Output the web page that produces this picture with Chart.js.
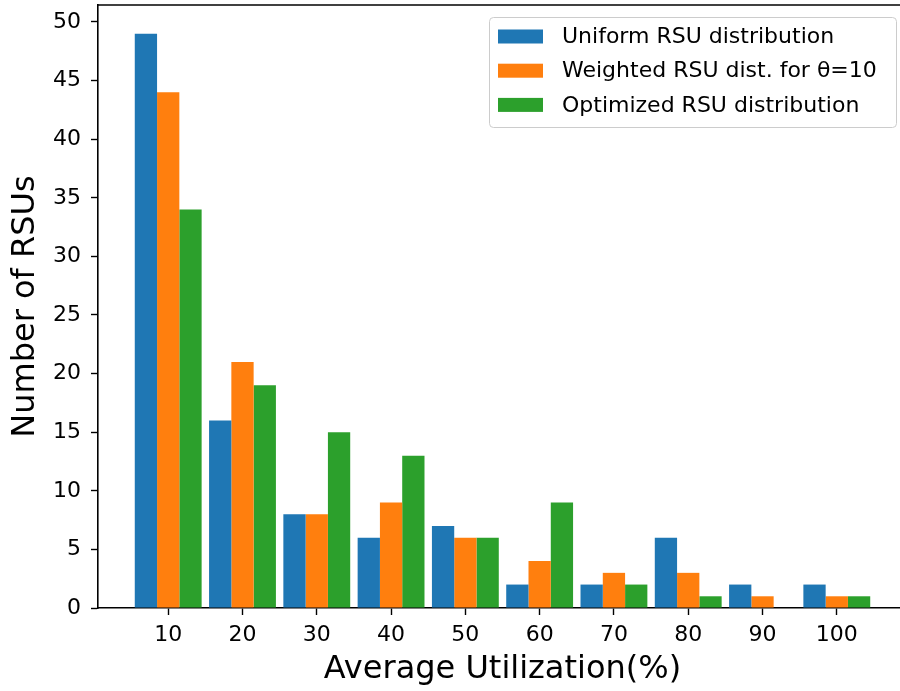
<!DOCTYPE html>
<html>
<head>
<meta charset="utf-8">
<script src="https://cdn.jsdelivr.net/npm/chart.js@4"></script>
<style>
  html, body { margin: 0; padding: 0; background: #fff; overflow: hidden; }
  #wrap { width: 910px; height: 691px; }
</style>
</head>
<body>
<div id="wrap"><canvas id="c" width="910" height="691"></canvas></div>
<script>
// Utilization bins (%)
const utilization = [10, 20, 30, 40, 50, 60, 70, 80, 90, 100];
// Number of RSUs per bin for each placement strategy
const uniformRSU   = [49, 16, 8, 6, 7, 2, 2, 6, 2, 2];
const weightedRSU  = [44, 21, 8, 9, 6, 4, 3, 3, 1, 1];
const optimizedRSU = [34, 19, 15, 13, 6, 9, 2, 1, 0, 1];
// Axis ticks
const yTickValues = [0, 5, 10, 15, 20, 25, 30, 35, 40, 45, 50];
const seriesLabels = ['Uniform RSU distribution', 'Weighted RSU dist. for \u03b8=10', 'Optimized RSU distribution'];
const seriesColors = ['#1f77b4', '#ff7f0e', '#2ca02c'];

const FONT = "'DejaVu Sans', sans-serif";

function toPoints(values) {
  return utilization.map((x, i) => ({ x: x, y: values[i] }));
}

// Frame spine along the top of the plot area
const topSpine = {
  id: 'topSpine',
  afterDraw(chart) {
    const { ctx, chartArea: a } = chart;
    ctx.save();
    ctx.strokeStyle = '#000';
    ctx.lineWidth = 1.6;
    ctx.beginPath();
    ctx.moveTo(a.left, a.top);
    ctx.lineTo(a.right, a.top);
    ctx.stroke();
    ctx.restore();
  }
};

// Boxed legend in the upper right corner of the plot area
const boxLegend = {
  id: 'boxLegend',
  afterDraw(chart) {
    const { ctx, chartArea: a } = chart;
    const sets = chart.data.datasets;
    const right = a.right - 11, top = a.top + 12;
    const w = 407, h = 110, left = right - w;
    ctx.save();
    ctx.beginPath();
    ctx.roundRect(left + 0.5, top + 0.5, w, h, 4);
    ctx.fillStyle = 'rgba(255,255,255,0.8)';
    ctx.fill();
    ctx.strokeStyle = '#cccccc';
    ctx.lineWidth = 1;
    ctx.stroke();
    ctx.font = '22px ' + FONT;
    ctx.textBaseline = 'middle';
    ctx.textAlign = 'left';
    sets.forEach((ds, i) => {
      const cy = top + 19.5 + i * 34.2;
      ctx.fillStyle = ds.backgroundColor;
      ctx.fillRect(left + 9, cy - 7, 45, 14);
      ctx.fillStyle = '#000';
      ctx.fillText(ds.label, left + 73, cy + 1);
    });
    ctx.restore();
  }
};

function noPad(s) {
  s.paddingTop = 0; s.paddingBottom = 0; s.paddingLeft = 0; s.paddingRight = 0;
}

new Chart(document.getElementById('c'), {
  type: 'bar',
  data: {
    datasets: [
      { label: seriesLabels[0], data: toPoints(uniformRSU),   backgroundColor: seriesColors[0] },
      { label: seriesLabels[1], data: toPoints(weightedRSU),  backgroundColor: seriesColors[1] },
      { label: seriesLabels[2], data: toPoints(optimizedRSU), backgroundColor: seriesColors[2] }
    ]
  },
  plugins: [topSpine, boxLegend],
  options: {
    responsive: false,
    animation: false,
    devicePixelRatio: 1,
    layout: { padding: { top: 5, right: 3, left: 0, bottom: 0 } },
    datasets: { bar: { categoryPercentage: 0.9, barPercentage: 1.0, borderWidth: 0 } },
    plugins: { legend: { display: false }, tooltip: { enabled: false } },
    scales: {
      x: {
        type: 'linear',
        offset: false,
        min: 0.55,
        max: 109.45,
        afterBuildTicks: s => { s.ticks = utilization.map(v => ({ value: v })); },
        afterFit: s => { s.height = 83; noPad(s); },
        ticks: { color: '#000', font: { family: FONT, size: 22 }, padding: 7, autoSkip: false, maxRotation: 0 },
        grid: { offset: false, drawOnChartArea: false, drawTicks: true, tickLength: 7, color: '#000', tickWidth: 1.4 },
        border: { display: true, color: '#000', width: 1.6 },
        title: { display: true, text: 'Average Utilization(%)', color: '#000', font: { family: FONT, size: 32 }, padding: { top: 0, bottom: 2 } }
      },
      y: {
        min: 0,
        max: 51.45,
        afterBuildTicks: s => { s.ticks = yTickValues.map(v => ({ value: v })); },
        afterFit: s => { s.width = 98; noPad(s); },
        ticks: { color: '#000', font: { family: FONT, size: 22 }, padding: 10 },
        grid: { drawOnChartArea: false, drawTicks: true, tickLength: 7, color: '#000', tickWidth: 1.4 },
        border: { display: true, color: '#000', width: 1.6 },
        title: { display: true, text: 'Number of RSUs', color: '#000', font: { family: FONT, size: 32 }, padding: { top: 6, bottom: 0 } }
      }
    }
  }
});
</script>
</body>
</html>
